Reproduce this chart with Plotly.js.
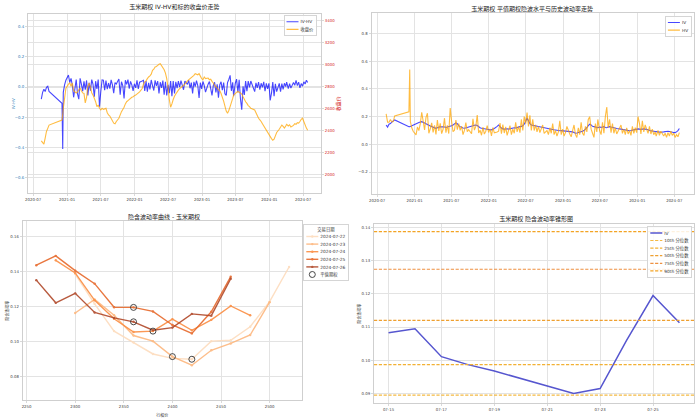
<!DOCTYPE html>
<html>
<head>
<meta charset="utf-8">
<script src="https://cdn.plot.ly/plotly-3.0.1.min.js"></script>
<style>
html,body{margin:0;padding:0;overflow:hidden;width:700px;height:419px;background:#fff}
#wrap{width:700px;height:419px;overflow:hidden;position:relative}
#chart{width:1750px;height:1048px;transform:scale(0.4);transform-origin:0 0;position:absolute;left:0;top:0}
</style>
</head>
<body>
<div id="wrap"><div id="chart"></div></div>
<script>
// ---------------- DATA ----------------
// weekly observation dates (top charts)
const weekDates = [
 '2020-08-14','2020-08-21','2020-08-28',
 '2020-09-04','2020-09-11','2020-09-18','2020-09-25',
 '2020-12-04','2020-12-08','2020-12-11','2020-12-18','2020-12-25',
 '2021-01-08','2021-01-15','2021-01-22','2021-01-29',
 '2021-02-05','2021-02-19','2021-02-26',
 '2021-03-05','2021-03-12','2021-03-19','2021-03-26',
 '2021-04-02','2021-04-09','2021-04-16','2021-04-23','2021-04-30',
 '2021-05-07','2021-05-14','2021-05-21','2021-05-28',
 '2021-06-04','2021-06-11','2021-06-18','2021-06-25',
 '2021-07-02','2021-07-09','2021-07-16','2021-07-23','2021-07-30',
 '2021-08-06','2021-08-13','2021-08-20','2021-08-27',
 '2021-09-03','2021-09-10','2021-09-17','2021-09-24',
 '2021-10-08','2021-10-15','2021-10-22','2021-10-29',
 '2021-11-05','2021-11-12','2021-11-19','2021-11-26',
 '2021-12-03','2021-12-10','2021-12-17','2021-12-24','2021-12-31',
 '2022-01-07','2022-01-14','2022-01-21','2022-01-28',
 '2022-02-11','2022-02-18','2022-02-25',
 '2022-03-04','2022-03-11','2022-03-18','2022-03-25',
 '2022-04-01','2022-04-08','2022-04-15','2022-04-22','2022-04-29',
 '2022-05-06','2022-05-13','2022-05-20','2022-05-27',
 '2022-06-03','2022-06-10','2022-06-17','2022-06-24',
 '2022-07-01','2022-07-08','2022-07-15','2022-07-22','2022-07-29',
 '2022-08-05','2022-08-12','2022-08-19','2022-08-26',
 '2022-09-02','2022-09-09','2022-09-16','2022-09-23','2022-09-30',
 '2022-10-14','2022-10-21','2022-10-28',
 '2022-11-04','2022-11-11','2022-11-18','2022-11-25',
 '2022-12-02','2022-12-09','2022-12-16','2022-12-23','2022-12-30',
 '2023-01-06','2023-01-13','2023-01-20',
 '2023-02-03','2023-02-10','2023-02-17','2023-02-24',
 '2023-03-03','2023-03-10','2023-03-17','2023-03-24','2023-03-31',
 '2023-04-07','2023-04-14','2023-04-21','2023-04-28',
 '2023-05-05','2023-05-12','2023-05-19','2023-05-26',
 '2023-06-02','2023-06-09','2023-06-16','2023-06-21','2023-06-30',
 '2023-07-07','2023-07-14','2023-07-21','2023-07-28',
 '2023-08-04','2023-08-11','2023-08-18','2023-08-25',
 '2023-09-01','2023-09-08','2023-09-15','2023-09-22',
 '2023-10-13','2023-10-20','2023-10-27',
 '2023-11-03','2023-11-10','2023-11-17','2023-11-24',
 '2023-12-01','2023-12-08','2023-12-15','2023-12-22','2023-12-29',
 '2024-01-05','2024-01-12','2024-01-19','2024-01-26',
 '2024-02-02','2024-02-09','2024-02-23',
 '2024-03-01','2024-03-08','2024-03-15','2024-03-22','2024-03-29',
 '2024-04-03','2024-04-12','2024-04-19','2024-04-26',
 '2024-05-10','2024-05-17','2024-05-24','2024-05-31',
 '2024-06-07','2024-06-14','2024-06-21','2024-06-28',
 '2024-07-05','2024-07-12','2024-07-19','2024-07-26'
];
// underlying close price
const closePrice = [
 2305,2290,2275,
 2330,2390,2418,2448,
 2494,2540,2600,2690,2780,
 2820,2830,2800,2830,
 2760,2740,2750,
 2770,2785,2760,2740,
 2735,2650,2700,2800,2830,
 2790,2740,2720,2690,
 2660,2615,2630,2600,
 2585,2600,2590,2595,2600,
 2560,2540,2530,2510,
 2490,2465,2460,2480,
 2510,2540,2570,2590,
 2610,2640,2660,2670,
 2680,2690,2700,2705,2715,
 2720,2730,2740,2750,
 2780,2820,2840,
 2850,2870,2885,2895,
 2910,2945,2955,2975,2980,
 2990,3000,3005,2985,
 2970,2950,2920,2870,
 2790,2680,2610,2640,2680,
 2710,2730,2750,2765,
 2780,2790,2800,2810,2820,
 2850,2860,2870,
 2880,2890,2900,2915,
 2910,2905,2915,2890,2870,
 2860,2885,2870,
 2875,2860,2865,2845,
 2830,2810,2796,2785,2770,
 2760,2735,2700,2665,
 2620,2575,2555,2580,
 2615,2650,2690,2720,2736,
 2745,2755,2745,2740,
 2730,2705,2680,2660,
 2645,2625,2615,2600,
 2585,2560,2540,
 2510,2495,2480,2460,
 2440,2420,2400,2380,2360,
 2345,2325,2310,2320,
 2350,2380,2410,
 2430,2448,2435,2420,2440,
 2455,2440,2450,2430,
 2445,2460,2455,2470,
 2465,2480,2500,2510,
 2480,2450,2420,2400
];
// ATM implied volatility
const ivSeries = [
 0.140,0.125,0.145,
 0.150,0.160,0.170,0.176,
 0.127,0.128,0.130,0.134,0.140,
 0.148,0.155,0.158,0.162,
 0.164,0.155,0.150,
 0.145,0.138,0.132,0.128,
 0.124,0.120,0.116,0.120,0.125,
 0.128,0.126,0.127,0.125,
 0.123,0.125,0.128,0.132,
 0.135,0.140,0.148,0.155,0.150,
 0.135,0.128,0.122,0.118,
 0.116,0.118,0.122,0.126,
 0.130,0.134,0.138,0.140,
 0.136,0.128,0.120,0.116,
 0.114,0.112,0.110,0.110,0.108,
 0.106,0.105,0.110,0.115,
 0.130,0.140,0.128,
 0.118,0.112,0.110,0.111,
 0.112,0.110,0.112,0.115,0.118,
 0.120,0.118,0.122,0.125,
 0.128,0.130,0.135,0.145,
 0.165,0.190,0.170,0.150,0.140,
 0.138,0.135,0.133,0.130,
 0.130,0.128,0.125,0.122,0.120,
 0.118,0.115,0.112,
 0.110,0.108,0.105,0.103,
 0.102,0.100,0.098,0.099,0.098,
 0.097,0.095,0.096,
 0.094,0.092,0.090,0.085,
 0.080,0.082,0.085,0.088,0.090,
 0.095,0.100,0.110,0.120,
 0.135,0.145,0.140,0.130,
 0.128,0.125,0.122,0.120,0.125,
 0.123,0.125,0.128,0.122,
 0.120,0.125,0.128,0.125,
 0.122,0.120,0.118,0.115,
 0.110,0.108,0.105,
 0.103,0.102,0.100,0.098,
 0.100,0.102,0.105,0.108,0.110,
 0.112,0.110,0.108,0.110,
 0.112,0.110,0.105,
 0.100,0.098,0.095,0.095,0.093,
 0.092,0.090,0.088,0.088,
 0.090,0.092,0.094,0.095,
 0.093,0.090,0.088,0.086,
 0.085,0.090,0.100,0.115
];
// historical volatility
const hvSeries = [
 0.220,0.160,0.160,
 0.180,0.162,0.165,0.205,
 0.235,0.540,0.165,0.120,0.095,
 0.068,0.125,0.100,0.150,
 0.232,0.105,0.195,
 0.225,0.080,0.112,0.155,
 0.086,0.138,0.072,0.176,0.097,
 0.152,0.077,0.109,0.189,
 0.084,0.138,0.078,0.262,
 0.165,0.092,0.102,0.175,0.107,
 0.149,0.101,0.132,0.070,
 0.101,0.158,0.092,0.106,
 0.077,0.184,0.103,0.130,
 0.211,0.083,0.102,0.066,
 0.124,0.074,0.095,0.135,0.086,
 0.112,0.061,0.122,0.083,
 0.090,0.095,0.153,
 0.078,0.142,0.082,0.126,
 0.065,0.100,0.135,0.070,0.110,
 0.080,0.160,0.090,0.130,
 0.085,0.180,0.100,0.200,
 0.150,0.230,0.130,0.210,0.100,
 0.180,0.100,0.140,0.090,
 0.130,0.085,0.110,0.140,0.080,
 0.100,0.070,0.120,
 0.080,0.150,0.070,0.100,
 0.060,0.090,0.170,0.070,0.110,
 0.060,0.085,0.130,
 0.075,0.055,0.100,0.140,
 0.070,0.050,0.120,0.070,0.160,
 0.080,0.065,0.130,0.090,
 0.180,0.200,0.110,0.080,
 0.050,0.150,0.090,0.180,0.100,
 0.070,0.160,0.080,0.200,
 0.270,0.120,0.180,0.085,
 0.150,0.080,0.120,0.075,
 0.140,0.080,0.110,
 0.070,0.120,0.075,0.100,
 0.065,0.130,0.080,0.120,0.085,
 0.200,0.150,0.075,0.170,
 0.090,0.140,0.080,
 0.130,0.075,0.110,0.070,0.090,
 0.060,0.100,0.065,0.095,
 0.060,0.080,0.050,0.085,
 0.060,0.095,0.065,0.080,
 0.050,0.070,0.055,0.085
];
const ivMinusHv = ivSeries.map((v, i) => +(v - hvSeries[i]).toFixed(4));

// volatility smile (bottom-left)
const strikes = [2260,2280,2300,2320,2340,2360,2380,2400,2420,2440,2460,2480,2500,2520];
const smileDates = ['2024-07-22','2024-07-23','2024-07-24','2024-07-25','2024-07-26'];
const smile0722 = [null,null,0.1385,0.1215,0.1060,0.0995,0.0930,0.0905,0.0900,0.1003,0.1008,0.1085,0.1228,0.1425];
const smile0723 = [null,null,0.1163,0.1240,0.1150,0.1035,0.1003,0.0915,0.0866,0.0951,0.0990,0.1038,0.1225,null];
const smile0724 = [null,0.1463,0.1391,0.1235,0.1130,0.1055,0.1060,0.1128,0.1065,0.1124,0.1203,0.1150,null,null];
const smile0725 = [0.1435,0.1488,0.1404,0.1330,0.1196,0.1195,0.1172,0.1095,0.1047,0.1170,0.1370,null,null,null];
const smile0726 = [0.1350,0.1221,0.1275,0.1166,0.1135,0.1113,0.1065,0.1080,0.1158,0.1148,0.1358,null,null,null];
const atmStrikes = [2420,2400,2380,2360,2360];
const atmIV = [0.0900,0.0915,0.1060,0.1195,0.1113];

// volatility cone (bottom-right)
const coneDates = ['2024-07-15','2024-07-16','2024-07-17','2024-07-18','2024-07-19','2024-07-22','2024-07-23','2024-07-24','2024-07-25','2024-07-26'];
const coneIV = [0.1083,0.1095,0.1011,0.0987,0.0968,0.0900,0.0915,0.1060,0.1195,0.1113];
const pctLabels = ['10th','25th','50th','75th','90th'];
const pctValues = [0.0895,0.0987,0.1120,0.1274,0.1387];

// ---------------- STYLE ----------------
const K = 2.5;
const FONT = 'DejaVu Sans, Noto Sans CJK SC, sans-serif';
const px = v => v / 700;
const py = v => 1 - v / 419;

function ax(extra) {
  return Object.assign({
    showgrid: true, gridcolor: '#e3e3e3', gridwidth: 1 * K,
    showline: true, linecolor: '#cfcfcf', linewidth: 1 * K, mirror: true,
    ticks: 'outside', ticklen: 2 * K, tickwidth: 0.8 * K, tickcolor: '#cfcfcf',
    tickfont: { family: FONT, size: 3.9 * K, color: '#444' },
    zeroline: false, automargin: false, fixedrange: true
  }, extra);
}

const smileColors = ['#fddcbd', '#fdb77e', '#fb8d42', '#e7692b', '#b1492a'];
const smileSets = [smile0722, smile0723, smile0724, smile0725, smile0726];
const pctColors = ['#f4b942', '#f2b134', '#efa030', '#ee9040', '#f3a424'];

const xTopRange = ['2020-06-03', '2024-10-06'];
const coneRange = ['2024-07-14 10:48', '2024-07-26 13:12'];

const traces = [];
traces.push({ x: weekDates, y: ivMinusHv, xaxis: 'x', yaxis: 'y', type: 'scatter', mode: 'lines',
  name: 'IV-HV', legend: 'legend', line: { color: 'rgba(0,0,255,0.72)', width: 1.1 * K } });
traces.push({ x: weekDates, y: closePrice, xaxis: 'x', yaxis: 'y2', type: 'scatter', mode: 'lines',
  name: '收盘价', legend: 'legend', line: { color: 'rgba(255,165,0,0.75)', width: 1.1 * K } });
traces.push({ x: weekDates, y: ivSeries, xaxis: 'x2', yaxis: 'y3', type: 'scatter', mode: 'lines',
  name: 'IV', legend: 'legend2', line: { color: 'rgba(0,0,255,0.72)', width: 1.1 * K } });
traces.push({ x: weekDates, y: hvSeries, xaxis: 'x2', yaxis: 'y3', type: 'scatter', mode: 'lines',
  name: 'HV', legend: 'legend2', line: { color: 'rgba(255,165,0,0.75)', width: 1.1 * K } });
smileSets.forEach((vals, i) => {
  traces.push({ x: strikes, y: vals, xaxis: 'x3', yaxis: 'y4', type: 'scatter', mode: 'lines+markers',
    name: smileDates[i], legend: 'legend3', opacity: 0.9,
    line: { color: smileColors[i], width: 1.4 * K }, marker: { color: smileColors[i], size: 2.4 * K } });
});
traces.push({ x: atmStrikes, y: atmIV, xaxis: 'x3', yaxis: 'y4', type: 'scatter', mode: 'markers',
  name: '平值期权', legend: 'legend3',
  marker: { symbol: 'circle-open', color: '#333', size: 6 * K, line: { width: 0.9 * K, color: '#333' } } });
traces.push({ x: coneDates, y: coneIV, xaxis: 'x4', yaxis: 'y5', type: 'scatter', mode: 'lines',
  name: 'IV', legend: 'legend4', line: { color: '#5656cf', width: 1.5 * K } });
pctLabels.forEach((lab, i) => {
  traces.push({ x: coneRange, y: [pctValues[i], pctValues[i]], xaxis: 'x4', yaxis: 'y5', type: 'scatter',
    mode: 'lines', name: lab + ' 分位数', legend: 'legend4',
    line: { color: pctColors[i], width: 1.2 * K, dash: '8px,4px' } });
});

function legendCfg(x, xanchor, y, extra) {
  return Object.assign({
    x: x, xanchor: xanchor, y: y, yanchor: 'top',
    bgcolor: 'rgba(255,255,255,0.85)', bordercolor: '#d5d5d5', borderwidth: 1 * K,
    font: { family: FONT, size: 4.3 * K, color: '#333' }, itemwidth: 30, tracegroupgap: 0
  }, extra || {});
}

function title(text, x, y) {
  return { text: text, xref: 'paper', yref: 'paper', x: x, y: y, xanchor: 'center', yanchor: 'middle',
    showarrow: false, font: { family: FONT, size: 6 * K, color: '#222' } };
}

const axTitleFont = { family: FONT, size: 4 * K, color: '#333' };

const layout = {
  width: 1750, height: 1048,
  margin: { l: 0, r: 0, t: 0, b: 0 },
  paper_bgcolor: '#fff', plot_bgcolor: '#fff',
  font: { family: FONT },
  hovermode: false,
  xaxis: ax({ domain: [px(28), px(321)], anchor: 'y', type: 'date', range: xTopRange,
    tick0: '2020-07-01', dtick: 'M6', tickformat: '%Y-%m' }),
  yaxis: ax({ domain: [py(193.3), py(14)], anchor: 'x', range: [-0.706, 0.485], tick0: 0, dtick: 0.2,
    tickformat: '.1f', tickfont: { family: FONT, size: 3.9 * K, color: '#1f77b4' },
    title: { text: 'IV-HV', font: { family: FONT, size: 4 * K, color: '#1f77b4' } } }),
  yaxis2: ax({ overlaying: 'y', side: 'right', anchor: 'x', range: [1827, 3457], tick0: 2000, dtick: 200,
    mirror: false, tickfont: { family: FONT, size: 3.9 * K, color: '#d62728' },
    title: { text: '收盘价', font: { family: FONT, size: 5 * K, color: '#d62728' } } }),
  xaxis2: ax({ domain: [px(371.5), px(694)], anchor: 'y3', type: 'date', range: xTopRange,
    tick0: '2020-07-01', dtick: 'M6', tickformat: '%Y-%m' }),
  yaxis3: ax({ domain: [py(194.3), py(13.3)], anchor: 'x2', range: [-0.361, 0.946], tick0: 0, dtick: 0.2,
    tickformat: '.1f' }),
  xaxis3: ax({ domain: [px(22.7), px(301.7)], anchor: 'y4', range: [2246, 2533], tick0: 2250, dtick: 50,
    title: { text: '行权价', font: axTitleFont } }),
  yaxis4: ax({ domain: [py(400), py(221)], anchor: 'x3', range: [0.0667, 0.1686], tick0: 0.08, dtick: 0.02,
    tickformat: '.2f', title: { text: '隐含波动率', font: axTitleFont } }),
  xaxis4: ax({ domain: [px(374), px(694)], anchor: 'y5', type: 'date', range: coneRange,
    tick0: '2024-07-15', dtick: 2 * 86400000, tickformat: '%m-%d' }),
  yaxis5: ax({ domain: [py(403), py(224.3)], anchor: 'x4', range: [0.0871, 0.1409], tick0: 0.09, dtick: 0.01,
    tickformat: '.2f', title: { text: '隐含波动率', font: axTitleFont } }),
  legend: legendCfg(px(316.7), 'right', py(15)),
  legend2: legendCfg(px(691.7), 'right', py(15.7)),
  legend3: legendCfg(px(303.3), 'left', py(224), {
    title: { text: '交易日期', side: 'top center', font: { family: FONT, size: 4.3 * K, color: '#333' } } }),
  legend4: legendCfg(px(691.7), 'right', py(226)),
  annotations: [
    title('玉米期权 IV-HV和标的收盘价走势', px(174.5), py(7.3)),
    title('玉米期权 平值期权隐波水平与历史波动率走势', px(532), py(9)),
    title('隐含波动率曲线 - 玉米期权', px(164), py(216.7)),
    title('玉米期权 隐含波动率锥形图', px(536), py(219))
  ]
};

Plotly.newPlot('chart', traces, layout, { staticPlot: true, displayModeBar: false });
</script>
</body>
</html>
